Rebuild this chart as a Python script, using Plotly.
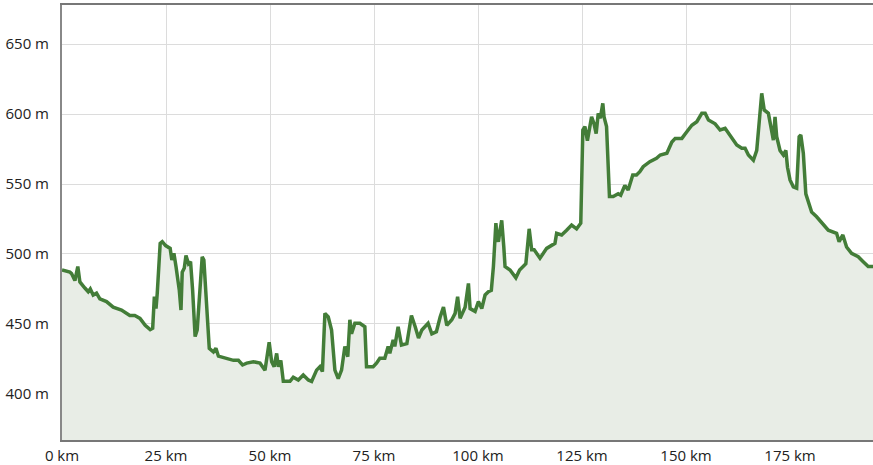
import plotly.graph_objects as go

distance_km = [
    0, 1.9, 2.3, 3.1, 3.8, 4.3, 5.5, 6.3, 6.8, 7.5, 8.3, 9.1, 10.7, 12.3, 14.3, 16.3, 17.5, 18.75,
    20, 21.2, 21.8, 22.2, 22.6, 22.9, 23.6, 24.1, 24.9, 26, 26.4, 26.9, 27.4, 28.2, 28.6, 28.9,
    29.4, 29.8, 30.4, 30.9, 31.4, 32, 32.5, 33.2, 33.7, 34.1, 34.8, 35.4, 36.4, 37, 37.6, 39.2,
    41.2, 42.4, 43.4, 44.4, 46, 47.6, 48.8, 49.8, 50.4, 51, 51.6, 52, 52.6, 53.2, 54.8, 55.6,
    56.8, 58, 59.2, 60, 61.2, 62, 62.6, 63.2, 64, 64.8, 65.6, 66.4, 67.2, 68, 68.7, 69.2, 69.6,
    70.4, 71.6, 72.8, 73.2, 74.8, 75.6, 76.4, 77.6, 78.4, 78.8, 79.6, 80, 80.8, 81.6, 82.9, 84,
    84.9, 85.7, 86.5, 87.3, 88, 88.9, 90, 90.9, 91.7, 92.5, 93.7, 94.5, 95.1, 95.7, 96.2, 96.9,
    97.7, 98.1, 99.3, 100.1, 100.9, 101.7, 102.5, 103.2, 103.7, 104.3, 104.6, 104.9, 105.3,
    105.7, 106.2, 106.5, 107.7, 109.1, 110, 111.5, 112.3, 112.9, 113.5, 114.9, 116.5, 118.5,
    118.9, 120.1, 121.3, 122.5, 123.7, 124.7, 125.2, 125.7, 126.3, 127.3, 127.9, 128.4, 128.9,
    129.4, 130, 130.3, 130.9, 131.6, 132.5, 133.7, 134.3, 135.3, 136.1, 137.2, 138.1, 138.9,
    139.7, 141.3, 142.9, 143.8, 145.4, 146.6, 147.4, 149, 150.2, 151.4, 152.6, 153.8, 154.6,
    155.4, 157, 158.2, 159.4, 160.6, 162.2, 163.4, 164.2, 165, 166.2, 167, 168.2, 168.8, 169.8,
    170.4, 171, 171.4, 171.8, 172.6, 173.4, 174, 174.4, 175, 175.8, 176.6, 177.2, 177.6, 178.2,
    178.8, 180.2, 181.4, 183, 184.2, 186.2, 186.8, 187.7, 188.6, 189.8, 191.4, 192.6, 193.8, 195,
]
elevation_m = [
    488.6, 487, 486, 481, 491, 480, 475.7, 473, 475, 470.7, 472, 468, 466, 462, 460, 456, 456, 454,
    449, 446, 447, 469.5, 461, 472, 507.6, 508.8, 506, 504, 495.7, 500.5, 491, 474, 460, 487,
    490, 499, 493, 494.5, 474, 441, 445.7, 481, 498, 495.7, 457.6, 432.6, 430, 432.6, 427, 425.5,
    424, 424, 420.7, 422, 423, 422, 417, 437, 423, 419.5, 429, 419.5, 424, 409, 409, 412,
    410, 413.6, 410, 409, 417, 419.5, 416, 457.6, 455, 445.7, 417, 411, 417, 434, 426.6, 453, 443,
    450.5, 450.5, 448, 419.5, 419.5, 422, 425.5, 425.5, 434, 429, 438.6, 434, 448, 435, 436, 456,
    448, 440, 445.7, 448, 450.5, 443, 444.5, 455, 462, 449, 453, 457.6, 469.5, 454, 457.6, 462,
    479, 461, 459, 466, 461, 470.7, 473, 474, 491, 522, 512, 508.8, 517,
    524, 505, 491, 488.6, 483, 488.6, 493, 518, 503, 503, 497, 504, 507.6,
    514.8, 513.6, 517, 520.7, 518, 522, 588.6, 591, 581, 598, 593, 586, 600.5,
    597, 607.6, 598, 591, 541, 541, 543, 542, 549, 545.7, 556.4, 556.4, 558.8,
    562.4, 566, 568.4, 570.7, 572, 580, 582.6, 582.6, 587.4, 592, 594.5, 600.5, 600.5,
    595.7, 593, 588.6, 589.8, 585, 577.9, 575.5, 575.5, 570.7, 567, 574, 614.8, 602.9, 600.5,
    591, 581.4, 598, 583.8, 574, 570.7, 574, 562, 552.9, 548, 547, 583.8, 585, 572,
    543, 530, 526.6, 520.7, 517, 514.8, 508.8, 513.6, 505, 500.5, 498, 494.5, 491, 491,
]

x_tick_values = [0, 25, 50, 75, 100, 125, 150, 175]
x_tick_labels = ["0 km", "25 km", "50 km", "75 km", "100 km", "125 km", "150 km", "175 km"]
y_tick_values = [400, 450, 500, 550, 600, 650]
y_tick_labels = ["400 m", "450 m", "500 m", "550 m", "600 m", "650 m"]

fig = go.Figure()
fig.add_trace(go.Scatter(
    x=distance_km, y=elevation_m, mode="lines",
    line=dict(color="#437d38", width=3.5),
    fill="tozeroy", fillcolor="#e8ede6",
    hoverinfo="skip", showlegend=False,
))

fig.update_layout(
    width=873, height=465,
    margin=dict(l=62, r=0, t=5, b=25),
    paper_bgcolor="white", plot_bgcolor="white",
    font=dict(family="Open Sans", size=15, color="#222222"),
    xaxis=dict(
        range=[0, 194.95], tickvals=x_tick_values, ticktext=x_tick_labels,
        showgrid=True, gridcolor="#dcdcdc", gridwidth=1,
        showline=True, linecolor="#777777", linewidth=2, mirror=True,
        ticks="", ticklabelstandoff=1, zeroline=False, fixedrange=True,
    ),
    yaxis=dict(
        range=[367.1, 677.9], tickvals=y_tick_values, ticktext=y_tick_labels,
        showgrid=True, gridcolor="#dcdcdc", gridwidth=1,
        showline=True, linecolor="#888888", linewidth=2,
        ticks="", ticklabelstandoff=8, zeroline=False, fixedrange=True,
    ),
)
fig.write_html(
    "out.html",
    config={"displayModeBar": False},
    post_script="document.body.style.margin='0';document.body.style.overflow='hidden';",
)
